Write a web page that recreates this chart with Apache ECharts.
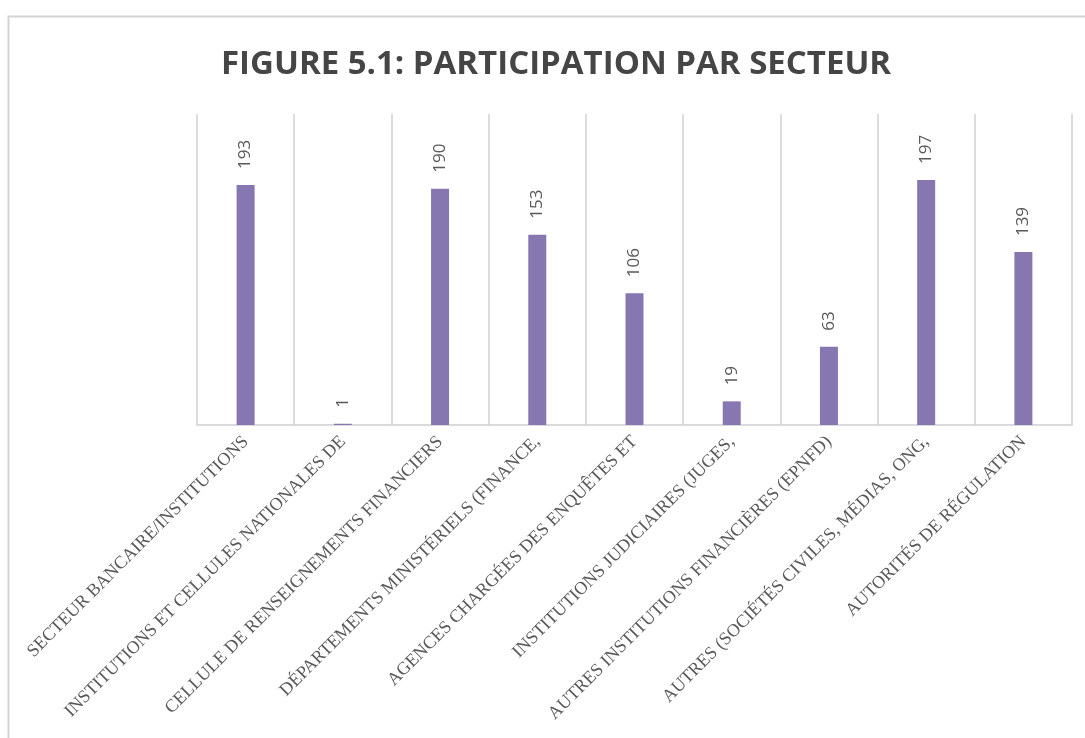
<!DOCTYPE html>
<html>
<head>
<meta charset="utf-8">
<script src="https://cdn.jsdelivr.net/npm/echarts@6/dist/echarts.min.js"></script>
<style>
html,body{margin:0;padding:0;background:#fff;}
#chart{width:1085px;height:738px;}
</style>
</head>
<body>
<div id="chart"></div>
<script>
const titleText = 'FIGURE 5.1: PARTICIPATION PAR SECTEUR';
const categories = [
  'SECTEUR BANCAIRE/INSTITUTIONS',
  'INSTITUTIONS ET CELLULES NATIONALES DE',
  'CELLULE DE RENSEIGNEMENTS FINANCIERS',
  'DÉPARTEMENTS MINISTÉRIELS (FINANCE,',
  'AGENCES CHARGÉES DES ENQUÊTES ET',
  'INSTITUTIONS JUDICIAIRES (JUGES,',
  'AUTRES INSTITUTIONS FINANCIÈRES (EPNFD)',
  'AUTRES (SOCIÉTÉS CIVILES, MÉDIAS, ONG,',
  'AUTORITÉS DE RÉGULATION'
];
const values = [193, 1, 190, 153, 106, 19, 63, 197, 139];

const chart = echarts.init(document.getElementById('chart'), null, {renderer: 'canvas'});
chart.setOption({
  backgroundColor: '#ffffff',
  animation: false,
  title: {
    text: titleText,
    left: 216,
    top: 43,
    textStyle: {
      fontFamily: 'Open Sans',
      fontWeight: 'bold',
      fontSize: 33,
      color: '#454545'
    }
  },
  graphic: [{
    type: 'rect',
    shape: {x: 8.5, y: 16.5, width: 1200, height: 800},
    style: {fill: 'none', stroke: '#d4d4d4', lineWidth: 2},
    silent: true,
    z: -1
  }],
  grid: {left: 197, right: 13, top: 114, bottom: 313, containLabel: false},
  xAxis: {
    type: 'category',
    data: categories,
    boundaryGap: true,
    axisLine: {show: true, lineStyle: {color: '#d0d0d0', width: 1.5}},
    axisTick: {show: false},
    splitLine: {show: true, interval: 0, lineStyle: {color: '#d0d0d0', width: 1.5}},
    axisLabel: {
      interval: 0,
      rotate: 45,
      margin: 14,
      fontFamily: 'Liberation Serif',
      fontSize: 18,
      color: '#595959'
    }
  },
  yAxis: {
    type: 'value',
    min: 0,
    max: 250,
    show: false,
    splitLine: {show: false}
  },
  series: [{
    type: 'bar',
    data: values,
    barWidth: 18,
    itemStyle: {color: '#8677b0'},
    label: {
      show: true,
      position: 'top',
      rotate: 90,
      align: 'left',
      verticalAlign: 'middle',
      distance: 16,
      fontFamily: 'Open Sans',
      fontSize: 17,
      color: '#595959'
    }
  }]
});
</script>
</body>
</html>
